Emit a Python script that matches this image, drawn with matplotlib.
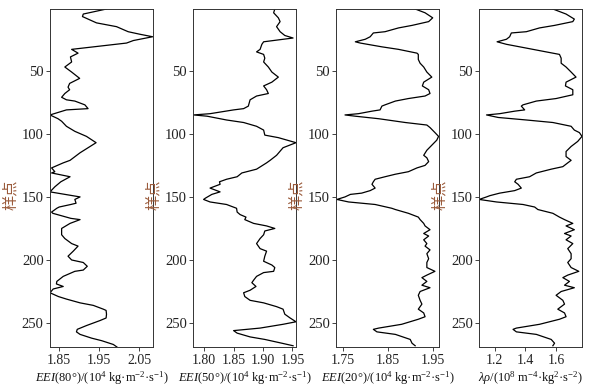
import matplotlib
matplotlib.use("Agg")
import matplotlib.pyplot as plt

plt.rcParams['font.family'] = ['Liberation Serif', 'Noto Sans CJK SC', 'DejaVu Sans']
plt.rcParams['mathtext.fontset'] = 'custom'
plt.rcParams['mathtext.rm'] = 'Liberation Serif'
plt.rcParams['mathtext.it'] = 'Liberation Serif:italic'

# sample index (样点) and attribute values
s80 = [1, 5, 7, 9, 12, 15, 19, 21, 23, 26, 28, 33, 36, 39, 43, 47, 51, 56, 60, 63, 65, 68, 71, 73, 74, 77, 80, 81,
       85, 88, 90, 94, 98, 102, 107, 110, 115, 121, 123, 127, 130, 131, 134, 138, 142, 146, 150, 152, 155, 156, 158,
       159, 162, 163, 167, 168, 171, 175, 180, 183, 187, 189, 193, 197, 200, 202, 205, 208, 209, 213, 217, 219, 221,
       223, 226, 229, 231, 234, 236, 239, 240, 243, 246, 248, 252, 255, 257, 259, 262, 264, 267, 269]
eei80 = [1.969, 1.911, 1.909, 1.923, 1.944, 1.994, 2.023, 2.052, 2.084, 2.036, 2.019, 1.882, 1.898, 1.879, 1.882,
         1.865, 1.882, 1.902, 1.877, 1.873, 1.877, 1.865, 1.857, 1.869, 1.890, 1.915, 1.923, 1.869, 1.828, 1.848,
         1.857, 1.869, 1.890, 1.919, 1.943, 1.928, 1.903, 1.878, 1.861, 1.832, 1.840, 1.832, 1.878, 1.855, 1.840,
         1.828, 1.903, 1.890, 1.893, 1.880, 1.851, 1.845, 1.832, 1.835, 1.880, 1.903, 1.878, 1.857, 1.857, 1.865,
         1.882, 1.898, 1.886, 1.873, 1.882, 1.911, 1.921, 1.911, 1.890, 1.861, 1.845, 1.844, 1.861, 1.836, 1.828,
         1.849, 1.869, 1.903, 1.936, 1.961, 1.968, 1.969, 1.968, 1.953, 1.919, 1.896, 1.894, 1.903, 1.932, 1.957,
         1.986, 1.995]

s50 = [1, 4, 8, 11, 15, 19, 22, 24, 27, 29, 33, 35, 37, 40, 43, 47, 51, 55, 59, 62, 65, 68, 70, 73, 78, 80, 81, 84,
       85, 86, 89, 91, 94, 97, 101, 103, 107, 111, 117, 121, 123, 128, 131, 134, 136, 138, 140, 143, 146, 148, 151,
       152, 154, 156, 159, 162, 164, 166, 168, 171, 173, 175, 177, 180, 183, 187, 191, 193, 197, 201, 204, 206, 209,
       210, 213, 216, 218, 221, 224, 226, 229, 232, 234, 237, 239, 243, 246, 249, 251, 254, 256, 258, 261, 263, 266,
       268]
eei50 = [1.920, 1.918, 1.926, 1.929, 1.923, 1.929, 1.937, 1.951, 1.901, 1.898, 1.895, 1.889, 1.901, 1.903, 1.901,
         1.909, 1.915, 1.926, 1.915, 1.901, 1.906, 1.909, 1.889, 1.878, 1.875, 1.867, 1.850, 1.810, 1.782, 1.805,
         1.838, 1.867, 1.889, 1.901, 1.903, 1.926, 1.956, 1.934, 1.923, 1.912, 1.906, 1.889, 1.864, 1.856, 1.838,
         1.826, 1.827, 1.810, 1.827, 1.813, 1.802, 1.799, 1.810, 1.838, 1.855, 1.856, 1.861, 1.871, 1.869, 1.884,
         1.906, 1.920, 1.903, 1.901, 1.895, 1.889, 1.895, 1.906, 1.903, 1.901, 1.915, 1.920, 1.918, 1.901, 1.889,
         1.884, 1.881, 1.888, 1.878, 1.867, 1.869, 1.878, 1.901, 1.923, 1.934, 1.937, 1.946, 1.956, 1.934, 1.895,
         1.850, 1.856, 1.878, 1.903, 1.932, 1.951]

s20 = [1, 4, 8, 11, 14, 16, 19, 20, 23, 25, 27, 28, 31, 33, 36, 37, 41, 44, 47, 51, 55, 59, 62, 65, 68, 70, 72, 74,
       77, 78, 81, 82, 84, 85, 86, 88, 91, 93, 95, 99, 102, 105, 109, 113, 117, 119, 122, 125, 127, 130, 132, 134,
       136, 138, 140, 143, 145, 147, 148, 150, 152, 154, 156, 159, 160, 163, 166, 168, 171, 173, 176, 179, 181, 184,
       187, 189, 192, 195, 199, 202, 206, 209, 212, 214, 217, 220, 222, 225, 228, 232, 235, 239, 242, 245, 247, 251,
       254, 255, 257, 259, 263, 266, 268]
eei20 = [1.910, 1.932, 1.949, 1.940, 1.903, 1.873, 1.843, 1.817, 1.810, 1.799, 1.777, 1.788, 1.836, 1.873, 1.914,
         1.917, 1.917, 1.921, 1.929, 1.936, 1.947, 1.929, 1.926, 1.940, 1.943, 1.932, 1.895, 1.866, 1.843, 1.836,
         1.832, 1.814, 1.784, 1.754, 1.777, 1.829, 1.888, 1.936, 1.943, 1.954, 1.962, 1.958, 1.947, 1.936, 1.929,
         1.936, 1.940, 1.932, 1.914, 1.895, 1.866, 1.843, 1.821, 1.817, 1.814, 1.821, 1.810, 1.791, 1.766, 1.754,
         1.736, 1.762, 1.821, 1.858, 1.866, 1.895, 1.917, 1.921, 1.929, 1.932, 1.943, 1.929, 1.940, 1.929, 1.936,
         1.932, 1.943, 1.936, 1.940, 1.936, 1.936, 1.954, 1.936, 1.925, 1.936, 1.925, 1.943, 1.921, 1.917, 1.921,
         1.925, 1.917, 1.929, 1.932, 1.917, 1.880, 1.829, 1.817, 1.825, 1.866, 1.899, 1.903, 1.910]

s_lr = [1, 5, 9, 11, 14, 16, 19, 20, 23, 25, 27, 29, 32, 35, 37, 40, 44, 47, 51, 55, 59, 62, 65, 69, 72, 74, 77, 78,
        81, 82, 84, 85, 87, 89, 91, 94, 97, 99, 102, 106, 110, 114, 118, 121, 123, 126, 128, 131, 134, 136, 138, 140,
        143, 145, 147, 149, 150, 152, 154, 156, 158, 160, 163, 166, 168, 171, 173, 176, 179, 181, 184, 187, 191, 195,
        199, 202, 206, 209, 212, 214, 217, 220, 222, 225, 228, 232, 235, 239, 242, 245, 247, 251, 254, 255, 257, 259,
        263, 266, 268]
lambda_rho = [1.579, 1.665, 1.719, 1.709, 1.590, 1.492, 1.406, 1.308, 1.297, 1.276, 1.215, 1.276, 1.406, 1.535,
              1.622, 1.633, 1.633, 1.665, 1.698, 1.730, 1.665, 1.661, 1.709, 1.709, 1.600, 1.471, 1.384, 1.373,
              1.395, 1.330, 1.232, 1.146, 1.222, 1.406, 1.579, 1.698, 1.719, 1.752, 1.769, 1.741, 1.698, 1.665,
              1.665, 1.698, 1.676, 1.644, 1.568, 1.471, 1.427, 1.341, 1.330, 1.352, 1.373, 1.330, 1.232, 1.168,
              1.146, 1.098, 1.211, 1.384, 1.460, 1.481, 1.579, 1.622, 1.655, 1.709, 1.665, 1.719, 1.655, 1.698,
              1.665, 1.709, 1.676, 1.698, 1.698, 1.676, 1.698, 1.748, 1.676, 1.644, 1.687, 1.655, 1.719, 1.633,
              1.600, 1.644, 1.655, 1.611, 1.655, 1.665, 1.622, 1.492, 1.341, 1.319, 1.341, 1.471, 1.568, 1.590,
              1.579]

xlabels = [r'$\mathit{EEI}$(80°)/(10$^{4}$ kg·m$^{-2}$·s$^{-1}$)',
           r'$\mathit{EEI}$(50°)/(10$^{4}$ kg·m$^{-2}$·s$^{-1}$)',
           r'$\mathit{EEI}$(20°)/(10$^{4}$ kg·m$^{-2}$·s$^{-1}$)',
           r'$\mathit{\lambda\rho}$/(10$^{8}$ m$^{-4}$·kg$^{2}$·s$^{-2}$)']
xticks = [[1.85, 1.95, 2.05], [1.80, 1.85, 1.90, 1.95], [1.75, 1.85, 1.95], [1.2, 1.4, 1.6]]
xticklabels = [['1.85', '1.95', '2.05'], ['1.80', '1.85', '1.90', '1.95'],
               ['1.75', '1.85', '1.95'], ['1.2', '1.4', '1.6']]
xlims = [(1.828, 2.085), (1.781, 1.956), (1.734, 1.963), (1.097, 1.769)]
series = [(s80, eei80), (s50, eei50), (s20, eei20), (s_lr, lambda_rho)]
lefts = [50, 193, 336, 479]

fig = plt.figure(figsize=(6.0, 3.87), dpi=100)
for i in range(4):
    ax = fig.add_axes([lefts[i] / 600, 40 / 387, 103 / 600, 338 / 387])
    s, v = series[i]
    ax.plot(v, s, color='black', linewidth=0.9)
    ax.set_xlim(*xlims[i])
    ax.set_ylim(269, 1)
    ax.set_yticks([50, 100, 150, 200, 250])
    ax.set_xticks(xticks[i])
    ax.set_xticklabels(xticklabels[i])
    ax.tick_params(axis='y', labelsize=10.5, length=3, width=0.6, pad=1.5, colors='#222222')
    ax.tick_params(axis='x', labelsize=10, length=3, width=0.6, pad=2, colors='#222222')
    for sp in ax.spines.values():
        sp.set_linewidth(0.7)
        sp.set_color('#333333')
    ax.set_xlabel(xlabels[i], fontsize=9, labelpad=2, color='#111111')
    ax.set_ylabel('样点', fontsize=11, color='#9a5a3a', family=['Noto Sans CJK SC'])
    ax.yaxis.set_label_coords(-0.30, 0.45)

fig.savefig('out.png', dpi=100)
